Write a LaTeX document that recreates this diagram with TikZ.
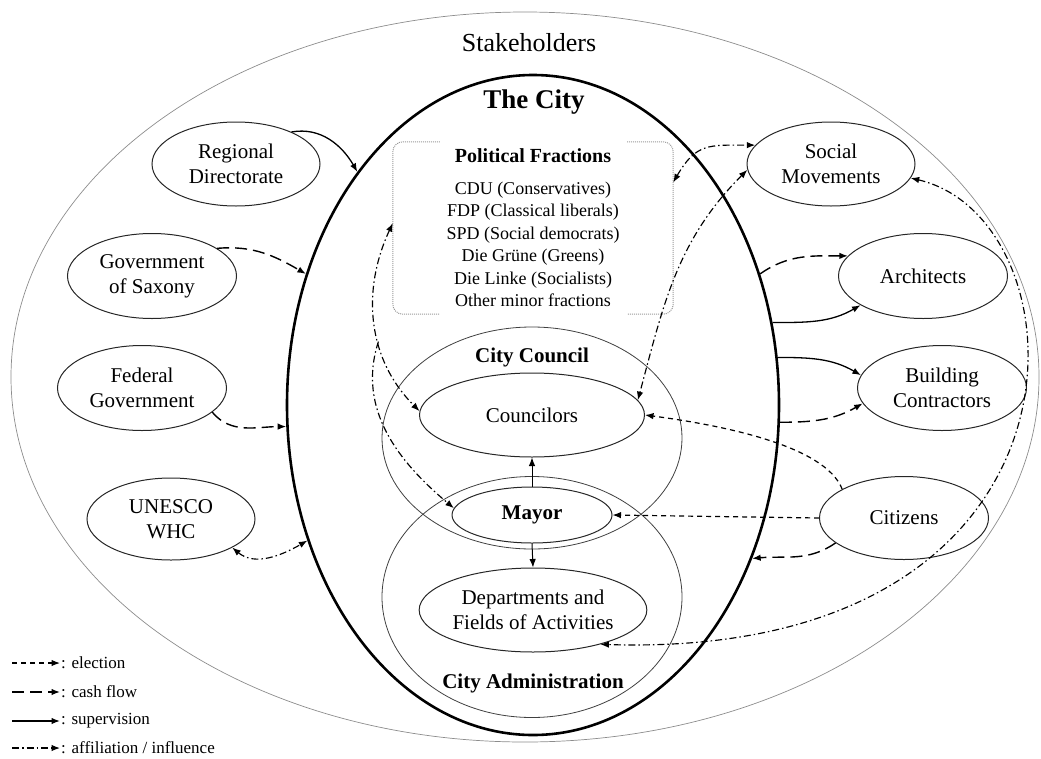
\documentclass[tikz,border=0pt]{standalone}
\usepackage{fontspec}
\setmainfont{Liberation Serif}
\usetikzlibrary{arrows.meta,shapes.geometric}
\begin{document}
\begin{tikzpicture}[x=1pt,y=1pt,
  ell/.style={ellipse, draw=black!85, line width=1pt, inner sep=0pt, align=center, font=\fontsize{21}{25}\selectfont},
  zone/.style={ellipse, draw=black!75, line width=0.8pt, inner sep=0pt},
  boldlabel/.style={font=\bfseries\fontsize{21}{25}\selectfont},
  tip/.style={-{Latex[length=8.5pt,width=6.5pt]}},
  both/.style={{Latex[length=8.5pt,width=6.5pt]}-{Latex[length=8.5pt,width=6.5pt]}},
  elec/.style={tip, line width=1.2pt, dash pattern=on 5pt off 4pt},
  cash/.style={tip, line width=1.4pt, dash pattern=on 12pt off 6pt},
  sup/.style={tip, line width=1.3pt},
  affil/.style={tip, line width=1.15pt, dash pattern=on 7pt off 3pt on 1.5pt off 3pt},
  pfline/.style={draw=gray!80, densely dotted, line width=1pt},
  legend/.style={font=\fontsize{17}{20}\selectfont, inner sep=1pt, anchor=west},
  ]
\useasboundingbox (0,0) rectangle (1041,-758);

% zones
\node[ellipse, draw=black!45, line width=0.7pt, inner sep=0pt, minimum width=1028, minimum height=730] (stake) at (525,-377) {};
\node[font=\fontsize{26}{30}\selectfont] (stakelabel) at (529,-43) {Stakeholders};
\node[ellipse, draw, line width=2.6pt, inner sep=0pt, minimum width=492, minimum height=660] (city) at (533,-405) {};
\node[font=\bfseries\fontsize{27}{32}\selectfont] (citylabel) at (534,-102) {The City};

\node[zone, minimum width=300, minimum height=222] (council) at (532,-438) {};
\node[zone, minimum width=300, minimum height=241] (admin) at (532,-597) {};
\node[boldlabel] (councillabel) at (532,-357) {City Council};
\node[boldlabel] (adminlabel) at (533,-683) {City Administration};

% inner nodes
\node[ell, minimum width=225, minimum height=84] (cou) at (532,-415) {Councilors};
\node[ell, minimum width=160, minimum height=56, font=\bfseries\fontsize{21}{25}\selectfont] (mayor) at (532,-515) {Mayor};
\node[ell, minimum width=225, minimum height=84] (dep) at (533,-610) {Departments and\\Fields of Activities};

% political fractions
\node[minimum width=280, minimum height=172, inner sep=0pt, align=center, font=\fontsize{18}{22.5}\selectfont] (pf) at (533,-228)
  {{\fontsize{20}{24}\selectfont\bfseries Political Fractions}\\[9pt]
   CDU (Conservatives)\\ FDP (Classical liberals)\\ SPD (Social democrats)\\
   Die Grüne (Greens)\\ Die Linke (Socialists)\\ Other minor fractions};
\draw[pfline, rounded corners=10pt] ([xshift=47pt]pf.north west) -- (pf.north west) -- (pf.south west) -- ([xshift=47pt]pf.south west);
\draw[pfline, rounded corners=10pt] ([xshift=-46pt]pf.north east) -- (pf.north east) -- (pf.south east) -- ([xshift=-46pt]pf.south east);

% outer stakeholders
\node[ell, minimum width=168, minimum height=84] (reg) at (236,-164) {Regional\\Directorate};
\node[ell, minimum width=169, minimum height=85] (gov) at (152,-276) {Government\\of Saxony};
\node[ell, minimum width=169, minimum height=85] (fed) at (142,-388) {Federal\\Government};
\node[ell, minimum width=168, minimum height=82] (une) at (171,-519) {UNESCO\\WHC};
\node[ell, minimum width=168, minimum height=84] (sm) at (831,-164) {Social\\Movements};
\node[ell, minimum width=169, minimum height=85] (arch) at (923,-276) {Architects};
\node[ell, minimum width=169, minimum height=85] (bc) at (942,-388) {Building\\Contractors};
\node[ell, minimum width=169, minimum height=83] (cit) at (904,-518) {Citizens};

% connectors: left side
\draw[sup] (reg.30) to[out=10,in=120] (city.127);
\draw[cash] (gov.23) to[out=5,in=150] (city.150);
\draw[cash] (fed.341) to[out=-50,in=180] (city.185);
\draw[affil,both] (une.335) to[out=-40,in=210] (city.211);

% affiliation inside
\draw[affil,both] (pf.178) to[out=245,in=135] node[coordinate,pos=0.6] (br) {} (cou.178);
\draw[affil] (br) to[out=252,in=140] (mayor.175);
\draw[affil,both] (pf.18) to[out=60,in=180,looseness=1.3] (sm.166);
\draw[affil,both] (sm.184) to[out=225,in=75] (cou.8);
\draw[affil,both] (sm.350) .. controls (1090,-220) and (1110,-660) .. (dep.333);

% citizens
\draw[elec] (cit.155) .. controls (825,-445) and (720,-425) .. (cou.east);
\draw[elec] (cit.west) -- (mayor.east);
\draw[cash] (cit.200) to[out=215,in=5] (city.325);

% city to architects / contractors
\draw[cash] (city.30) to[out=35,in=180] (arch.165);
\draw[sup] (city.19) to[out=0,in=210] (arch.205);
\draw[sup] (city.11) to[out=0,in=150] (bc.171);
\draw[cash] (city.356) to[out=0,in=210] (bc.191);

% mayor
\draw[sup, line width=1pt] (mayor.north) -- (cou.south);
\draw[sup, line width=1pt] (mayor.south) -- (dep.north);

% legend
\node[legend] (lg1) at (60,-663) {: election};
\node[legend] (lg2) at (60,-692) {: cash flow};
\node[legend] (lg3) at (60,-721) {: supervision};
\node[legend] (lg4) at (60,-748) {: affiliation / influence};
\coordinate (lg1s) at (12,-663);
\coordinate (lg2s) at (12,-692);
\coordinate (lg3s) at (12,-721);
\coordinate (lg4s) at (12,-748);
\draw[elec] (lg1s) -- (lg1.west);
\draw[cash] (lg2s) -- (lg2.west);
\draw[sup] (lg3s) -- (lg3.west);
\draw[affil] (lg4s) -- (lg4.west);
\end{tikzpicture}
\end{document}
